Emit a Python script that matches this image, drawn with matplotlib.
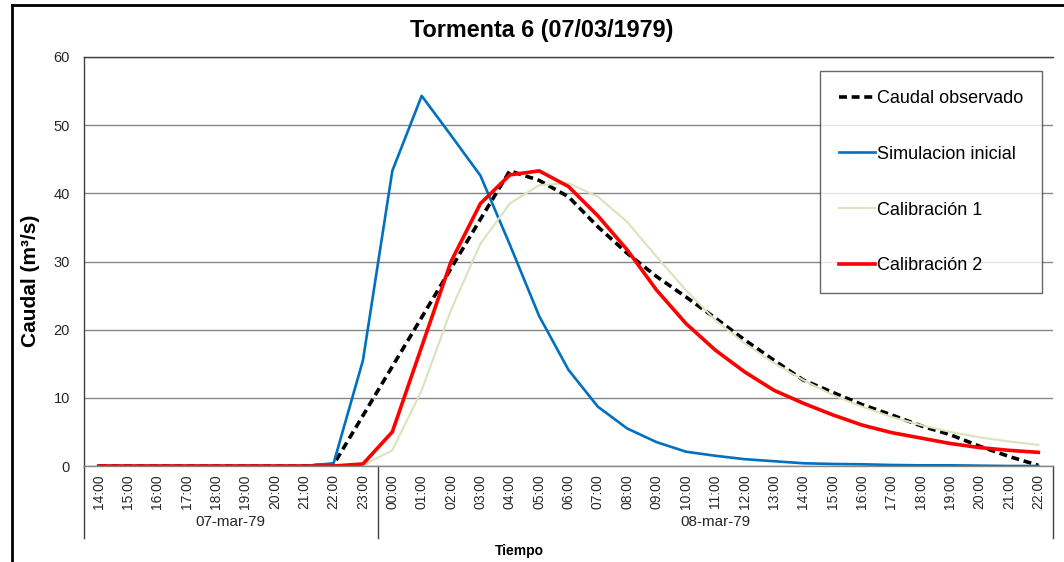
import matplotlib
matplotlib.use('Agg')
import matplotlib.pyplot as plt
from matplotlib.lines import Line2D
import matplotlib.transforms as mtransforms

plt.rcParams['font.family'] = ['Liberation Sans', 'DejaVu Sans']

# horas (categorias del eje x)
horas = ['14:00', '15:00', '16:00', '17:00', '18:00', '19:00', '20:00', '21:00', '22:00', '23:00',
         '00:00', '01:00', '02:00', '03:00', '04:00', '05:00', '06:00', '07:00', '08:00', '09:00',
         '10:00', '11:00', '12:00', '13:00', '14:00', '15:00', '16:00', '17:00', '18:00', '19:00',
         '20:00', '21:00', '22:00']
dias = ['07-mar-79', '08-mar-79']
n_dia1 = 10

observado = [0, 0, 0, 0, 0, 0, 0, 0, 0.2, 7.4, 14.6, 21.8, 29.0, 36.2, 43.3, 41.9, 39.5, 35.1,
             31.2, 27.8, 24.8, 21.7, 18.5, 15.5, 12.6, 10.8, 9.0, 7.5, 5.9, 4.6, 2.9, 1.4, 0.1]
simulacion = [0, 0, 0, 0, 0, 0, 0, 0, 0.4, 15.5, 43.3, 54.3, 48.5, 42.6, 32.5, 22.0, 14.1, 8.7,
              5.5, 3.5, 2.1, 1.5, 1.0, 0.7, 0.4, 0.3, 0.25, 0.15, 0.1, 0.1, 0.05, 0.0, 0.0]
calib1 = [0, 0, 0, 0, 0, 0, 0, 0, 0, 0.1, 2.3, 11.1, 22.9, 32.6, 38.5, 41.2, 41.5, 39.5,
          35.8, 30.7, 25.8, 21.4, 18.0, 15.1, 12.6, 10.4, 8.7, 7.2, 6.0, 5.0, 4.2, 3.6, 3.1]
calib2 = [0, 0, 0, 0, 0, 0, 0, 0, 0, 0.3, 5.0, 17.5, 30.0, 38.5, 42.7, 43.3, 41.0, 36.7,
          31.7, 25.8, 20.9, 17.0, 13.8, 11.1, 9.2, 7.5, 6.0, 4.9, 4.1, 3.3, 2.7, 2.3, 2.0]

fig = plt.figure(figsize=(10.64, 5.62), dpi=100)
ax = fig.add_axes([84 / 1064, 1 - 466 / 562, (1053 - 84) / 1064, (466 - 57) / 562])

x = list(range(len(horas)))
ax.plot(x, observado, color='black', lw=2.6, linestyle=(0, (2.2, 1.3)), label='Caudal observado')
ax.plot(x, simulacion, color='#0070C0', lw=1.9, label='Simulacion inicial')
ax.plot(x, calib1, color='#D7E4BD', lw=1.5, label='Calibración 1')
ax.plot(x, calib2, color='#FF0000', lw=2.6, label='Calibración 2')

ax.set_xlim(-0.5, len(horas) - 0.5)
ax.set_ylim(0, 60)
ax.set_yticks(range(0, 61, 10))
ax.yaxis.grid(True, color='#868686', lw=1)
ax.set_axisbelow(True)
ax.tick_params(axis='y', length=0, pad=10, labelsize=10.5, labelcolor='#262626')
ax.set_xticks(x)
ax.set_xticklabels(horas, rotation=90, fontsize=10, color='#262626')
ax.tick_params(axis='x', length=0, pad=6)
for s in ['top', 'left', 'bottom']:
    ax.spines[s].set_color('#868686')
    ax.spines[s].set_linewidth(1)
ax.spines['right'].set_visible(False)
ax.spines['top'].set_color('#404040')
ax.spines['left'].set_color('#404040')

# eje de categorias de dos niveles
trans = mtransforms.blended_transform_factory(ax.transData, ax.transAxes)
for xv in [-0.5, n_dia1 - 0.5, len(horas) - 0.5]:
    ax.plot([xv, xv], [0, -0.176], transform=trans, color='#404040', lw=1, clip_on=False)
ax.text((n_dia1 - 1) / 2, -0.137, dias[0], transform=trans, ha='center', va='center',
        fontsize=11, color='#262626')
ax.text((n_dia1 + len(horas) - 1) / 2, -0.137, dias[1], transform=trans, ha='center', va='center',
        fontsize=11, color='#262626')

fig.text(519 / 1064, 1 - 551 / 562, 'Tiempo', ha='center', va='center', fontsize=10,
         fontweight='bold')
fig.text(30 / 1064, 1 - 281 / 562, 'Caudal (m³/s)', ha='center', va='center', rotation=90,
         fontsize=15, fontweight='bold')
fig.text(542 / 1064, 1 - 31 / 562, 'Tormenta 6 (07/03/1979)', ha='center', va='center',
         fontsize=16.8, fontweight='bold')

leg = ax.legend(loc='upper right', bbox_to_anchor=(1042 / 1064, 1 - 71 / 562),
                bbox_transform=fig.transFigure, fontsize=13, frameon=True, fancybox=False,
                labelspacing=2.15, borderpad=1.05, handlelength=2.0, handletextpad=0.1,
                borderaxespad=0)
leg.get_frame().set_edgecolor('#404040')
leg.get_frame().set_linewidth(1)

# marco exterior
fig.add_artist(Line2D([12 / 1064, 12 / 1064], [0, 1 - 5 / 562], transform=fig.transFigure,
                      color='black', lw=2))
fig.add_artist(Line2D([12 / 1064, 1], [1 - 5 / 562, 1 - 5 / 562], transform=fig.transFigure,
                      color='black', lw=2))

fig.savefig('out.png', dpi=100)
plt.close(fig)
